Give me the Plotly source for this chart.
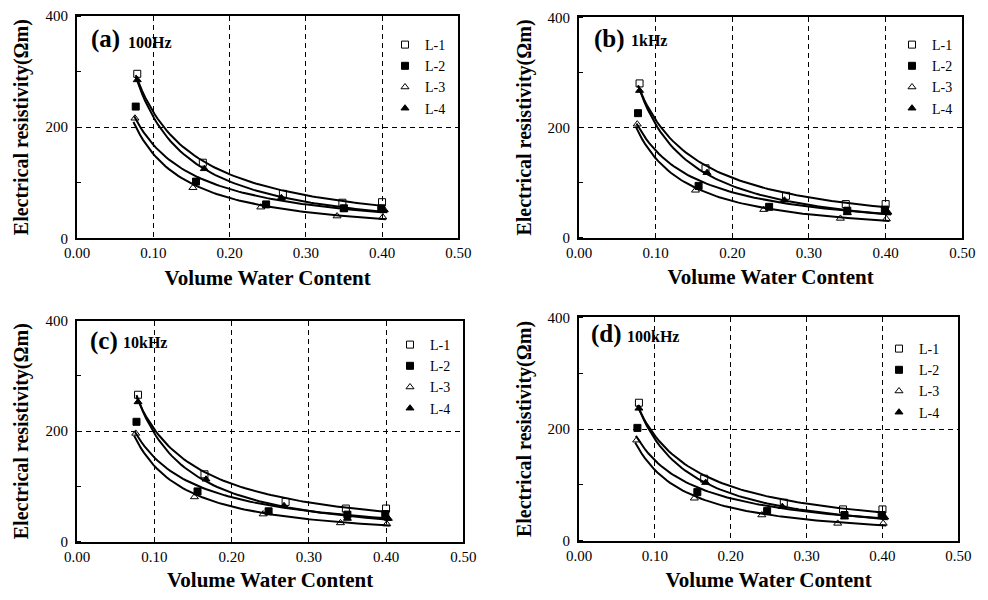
import numpy as np
import plotly.graph_objects as go

# ---------------- data ----------------
panel_labels = ["(a)", "(b)", "(c)", "(d)"]
freq_labels = ["100Hz", "1kHz", "10kHz", "100kHz"]
series_names = ["L-1", "L-2", "L-3", "L-4"]

vwc_L1 = [0.079, 0.165, 0.270, 0.348, 0.400]
vwc_L2 = [0.077, 0.156, 0.248, 0.350, 0.399]
vwc_L3 = [0.076, 0.152, 0.241, 0.341, 0.401]
vwc_L4 = [0.079, 0.167, 0.268, 0.350, 0.403]

# resistivity (Ohm m) per panel
a_L1 = [296, 136, 80, 64, 65]
a_L2 = [237, 102, 61, 54, 54]
a_L3 = [216, 91, 56, 40, 38]
a_L4 = [285, 125, 73, 52, 51]

b_L1 = [280, 126, 76, 61, 61]
b_L2 = [226, 94, 56, 49, 51]
b_L3 = [206, 86, 51, 35, 34]
b_L4 = [267, 118, 68, 45, 46]

c_L1 = [266, 122, 72, 60, 60]
c_L2 = [217, 91, 55, 49, 50]
c_L3 = [196, 81, 50, 34, 32]
c_L4 = [253, 113, 65, 42, 42]

d_L1 = [247, 111, 68, 56, 56]
d_L2 = [202, 87, 53, 46, 46]
d_L3 = [180, 76, 46, 31, 31]
d_L4 = [237, 104, 61, 42, 42]

x_ticks = [0.0, 0.1, 0.2, 0.3, 0.4, 0.5]
x_tick_text = ["0.00", "0.10", "0.20", "0.30", "0.40", "0.50"]
y_ticks = [0, 200, 400]

vwc = [vwc_L1, vwc_L2, vwc_L3, vwc_L4]
panels = [
    [a_L1, a_L2, a_L3, a_L4],
    [b_L1, b_L2, b_L3, b_L4],
    [c_L1, c_L2, c_L3, c_L4],
    [d_L1, d_L2, d_L3, d_L4],
]

# ---------------- styling ----------------
FONT = "Liberation Serif"
symbols = ["square-open", "square", "triangle-up-open", "triangle-up"]
OFF = 8                      # page body margin of the html page
W, H = 988 - 2 * OFF, 600 - 2 * OFF
# panel plot-area boxes in page pixels (x0, x1, ytop, ybottom)
boxes = [(77, 458.3, 16, 238.3), (579, 962.3, 17.3, 237.7),
         (77, 463.3, 320.7, 541.7), (579, 958.3, 317.3, 540.7)]
# legend box top-left (page pixels)
legend_px = [(385, 29), (892, 29), (390, 329), (879, 333)]
lab_px = [(89, 39), (592, 39), (88, 341), (589, 334)]
freq_px = [(126, 42), (629, 40), (121, 342.7), (625, 336)]


def fx(px):
    return (px - OFF) / W


def fy(py):
    return 1 - (py - OFF) / H


fig = go.Figure()

for p in range(4):
    ax = "" if p == 0 else str(p + 1)
    xa, ya = "x" + ax, "y" + ax
    leg = "legend" if p == 0 else "legend" + str(p + 1)
    # fitted power-law trend lines (least squares in log-log space, from the data)
    for s in range(4):
        xs = np.array(vwc[s])
        ys = np.array(panels[p][s], dtype=float)
        b, loga = np.polyfit(np.log(xs), np.log(ys), 1)
        xf = np.linspace(xs.min() - 0.002, xs.max() + 0.004, 80)
        yf = np.exp(loga) * xf ** b
        fig.add_trace(go.Scatter(x=xf, y=yf, mode="lines",
                                 line=dict(color="black", width=2),
                                 showlegend=False, hoverinfo="skip",
                                 xaxis=xa, yaxis=ya))
    for s in range(4):
        fig.add_trace(go.Scatter(
            x=vwc[s], y=panels[p][s], mode="markers", name=series_names[s],
            marker=dict(symbol=symbols[s], size=7, color="black",
                        line=dict(color="black", width=1)),
            xaxis=xa, yaxis=ya, legend=leg))

layout = dict(
    width=W, height=H, autosize=False,
    margin=dict(l=0, r=0, t=0, b=0, autoexpand=False),
    paper_bgcolor="white", plot_bgcolor="white",
    font=dict(family=FONT, color="black", size=14),
    annotations=[], shapes=[],
)

for p in range(4):
    ax = "" if p == 0 else str(p + 1)
    x0, x1, yt, yb = boxes[p]
    xd = [fx(x0), fx(x1)]
    yd = [fy(yb), fy(yt)]
    layout["xaxis" + ax] = dict(
        domain=xd, range=[0, 0.5], anchor="y" + ax, automargin=False,
        tickvals=x_ticks, ticktext=x_tick_text, ticks="",
        showgrid=True, gridcolor="black", gridwidth=1, griddash="5px,4px",
        zeroline=False, showline=True, linecolor="black", linewidth=2,
        mirror=True, tickfont=dict(family=FONT, size=15, color="black"),
        title=dict(text="<b>Volume Water Content</b>",
                   font=dict(family=FONT, size=21, color="black"), standoff=10),
        fixedrange=True,
    )
    layout["yaxis" + ax] = dict(
        domain=yd, range=[0, 400], anchor="x" + ax, automargin=False,
        tickvals=y_ticks, ticks="",
        showgrid=True, gridcolor="black", gridwidth=1, griddash="5px,4px",
        minor=dict(dtick=100, tick0=0, ticks="inside", ticklen=4,
                   tickcolor="black", tickwidth=1, showgrid=False),
        zeroline=False, showline=True, linecolor="black", linewidth=2,
        mirror=True, tickfont=dict(family=FONT, size=15, color="black"),
        ticklabelstandoff=4,
        title=dict(text="<b>Electrical resistivity(Ωm)</b>",
                   font=dict(family=FONT, size=20, color="black"), standoff=11),
        fixedrange=True,
    )
    lx, ly = legend_px[p]
    layout["legend" if p == 0 else "legend" + str(p + 1)] = dict(
        x=fx(lx), y=fy(ly), xanchor="left", yanchor="top",
        bgcolor="rgba(0,0,0,0)",
        font=dict(family=FONT, size=14, color="black"),
        itemwidth=30, tracegroupgap=0,
    )
    layout["annotations"].append(dict(
        text="<b>" + panel_labels[p] + "</b>",
        x=fx(lab_px[p][0]), y=fy(lab_px[p][1]),
        xref="paper", yref="paper", xanchor="left", yanchor="middle",
        showarrow=False, font=dict(family=FONT, size=25, color="black")))
    layout["annotations"].append(dict(
        text="<b>" + freq_labels[p] + "</b>",
        x=fx(freq_px[p][0]), y=fy(freq_px[p][1]),
        xref="paper", yref="paper", xanchor="left", yanchor="middle",
        showarrow=False, font=dict(family=FONT, size=16, color="black")))

fig.update_layout(**layout)
fig.write_html("out.html")
